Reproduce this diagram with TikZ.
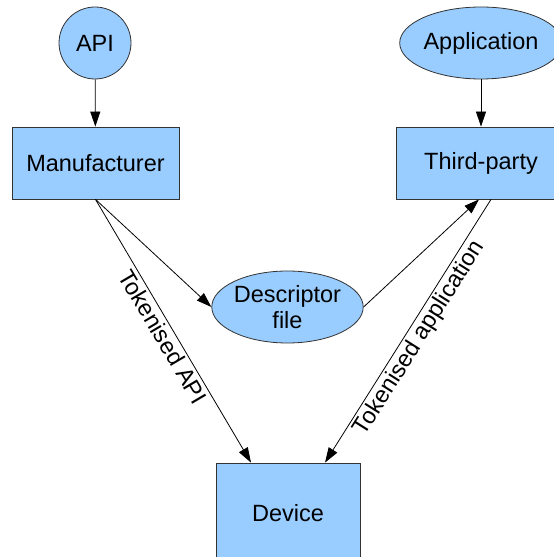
\documentclass[tikz,border=0pt]{standalone}
\usepackage{fontspec}
\setmainfont{Liberation Sans}
\usetikzlibrary{arrows.meta,shapes.geometric}
\definecolor{boxfill}{HTML}{99CCFF}
\definecolor{boxline}{HTML}{333333}
\begin{document}
\begin{tikzpicture}[x=1pt,y=1pt,
  every node/.style={font=\fontsize{23.5}{26}\selectfont, text=black},
  blob/.style={draw=boxline, fill=boxfill, line width=0.8pt, inner sep=0pt},
  roundblob/.style={blob, circle, minimum size=72pt},
  ovalblob/.style={blob, ellipse, minimum width=144pt, minimum height=72pt, align=center},
  rectblob/.style={blob, rectangle, minimum height=72pt},
  link/.style={draw=black, line width=0.8pt, -{Triangle[length=15pt,width=10pt]}},
  edgelabel/.style={sloped, below, pos=0.5, inner sep=2.5pt}
]
\useasboundingbox (0,0) rectangle (554,557);
\clip (0,0) rectangle (554,557);

% shapes
\node[roundblob] (api) at (95,514) {API};
\node[rectblob, minimum width=167pt] (man) at (95.5,394) {Manufacturer};
\node[ovalblob, minimum width=145pt] (app) at (481,514) {Application};
\node[rectblob, minimum width=170pt] (tp) at (481,394) {Third-party};
\node[ovalblob, minimum width=143pt] (desc) at (287.5,250) {Descriptor\\file};
\node[rectblob, minimum width=144pt, minimum height=100pt] (dev) at (288,44) {Device};

% connectors
\draw[link] (api) -- (man);
\draw[link] (app) -- (tp);
\draw[link] (man.south) -- (desc.west);
\draw[link] (man.south) -- node[edgelabel] {Tokenised API} ([xshift=-37pt]dev.north);
\draw[link] (desc.east) -- ([xshift=-2pt]tp.south);
\draw[link] ([xshift=10pt]tp.south) -- node[edgelabel] {Tokenised application} ([xshift=37pt]dev.north);
\end{tikzpicture}
\end{document}
